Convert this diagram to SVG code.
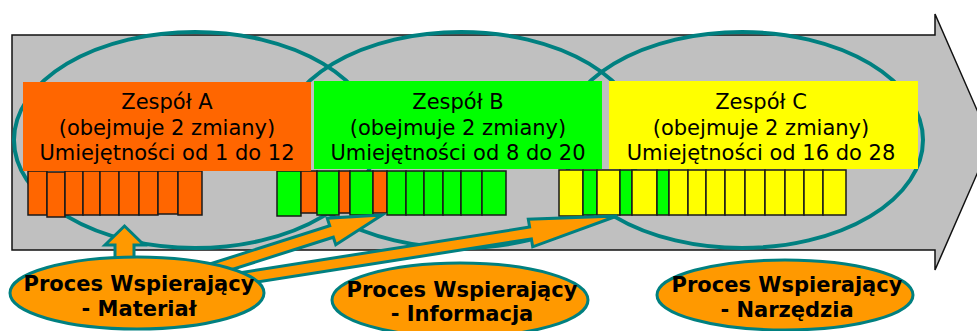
<svg xmlns="http://www.w3.org/2000/svg" width="977" height="331" viewBox="0 0 977 331">
<style>
.big{fill:none;stroke:#008080;stroke-width:4}
.hdr{stroke:none}
.bar{stroke:#1a1a1a;stroke-width:1.5}
.o{fill:#FF6600}.g{fill:#00FF00}.y{fill:#FFFF00}
.ht{font-family:"DejaVu Sans",Verdana,sans-serif;font-size:21px;fill:#000;text-anchor:middle}
.st{font-family:"DejaVu Sans",Verdana,sans-serif;font-size:21px;font-weight:bold;fill:#000;text-anchor:middle}
.sup{fill:#FF9900;stroke:#008080;stroke-width:3}
.arr{fill:#FF9900;stroke:#008080;stroke-width:3;stroke-linejoin:miter}
</style>
<rect width="977" height="331" fill="#fff"/>
<g id="flow">
<polygon points="12,35 935,35 935,14 991,142 935,270 935,250 12,250" fill="#C0C0C0" stroke="#111" stroke-width="1.5"/>
</g>
<g id="zones">
<ellipse class="big" cx="195" cy="140" rx="181" ry="108"/>
<ellipse class="big" cx="461" cy="140" rx="181" ry="108"/>
<ellipse class="big" cx="742" cy="140" rx="181" ry="108"/>
</g>
<g id="bars">
<rect class="bar o" x="28" y="171" width="19" height="44"/>
<rect class="bar o" x="47" y="172" width="18" height="45"/>
<rect class="bar o" x="65" y="171" width="18" height="44"/>
<rect class="bar o" x="83" y="171" width="17" height="44"/>
<rect class="bar o" x="100" y="171" width="19" height="44"/>
<rect class="bar o" x="119" y="171" width="20" height="44"/>
<rect class="bar o" x="139" y="171" width="19" height="44"/>
<rect class="bar o" x="158" y="171" width="20" height="43"/>
<rect class="bar o" x="178" y="171" width="24" height="44"/>

<rect class="bar g" x="277" y="171" width="24" height="45"/>
<rect class="bar o" x="301" y="171" width="16" height="42"/>
<rect class="bar g" x="317" y="171" width="22" height="44"/>
<rect class="bar o" x="339" y="171" width="11" height="42"/>
<rect class="bar g" x="350" y="171" width="23" height="44"/>
<rect class="bar o" x="373" y="171" width="14" height="42"/>
<rect class="bar g" x="387" y="171" width="19" height="44"/>
<rect class="bar g" x="406" y="171" width="18" height="44"/>
<rect class="bar g" x="424" y="171" width="19" height="44"/>
<rect class="bar g" x="443" y="171" width="18" height="44"/>
<rect class="bar g" x="461" y="171" width="21" height="44"/>
<rect class="bar g" x="482" y="171" width="24" height="44"/>

<rect class="bar y" x="559" y="170" width="24" height="46"/>
<rect class="bar g" x="583" y="170" width="14" height="45"/>
<rect class="bar y" x="597" y="170" width="23" height="45"/>
<rect class="bar g" x="620" y="170" width="12" height="45"/>
<rect class="bar y" x="632" y="170" width="25" height="45"/>
<rect class="bar g" x="657" y="170" width="12" height="45"/>
<rect class="bar y" x="669" y="170" width="19" height="45"/>
<rect class="bar y" x="688" y="170" width="18" height="45"/>
<rect class="bar y" x="706" y="170" width="19" height="45"/>
<rect class="bar y" x="725" y="170" width="20" height="45"/>
<rect class="bar y" x="745" y="170" width="20" height="45"/>
<rect class="bar y" x="765" y="170" width="20" height="45"/>
<rect class="bar y" x="785" y="170" width="19" height="45"/>
<rect class="bar y" x="804" y="170" width="19" height="45"/>
<rect class="bar y" x="823" y="170" width="23" height="45"/>
</g>
<g id="teamA">
<rect class="hdr o" x="23" y="82" width="288" height="89"/>
<text class="ht" x="167" y="109">Zespół A</text>
<text class="ht" x="167" y="135">(obejmuje 2 zmiany)</text>
<text class="ht" x="167" y="160">Umiejętności od 1 do 12</text>
</g>
<g id="teamB">
<rect class="hdr g" x="314" y="81" width="288" height="88"/>
<text class="ht" x="458" y="109">Zespół B</text>
<text class="ht" x="458" y="135">(obejmuje 2 zmiany)</text>
<text class="ht" x="458" y="160">Umiejętności od 8 do 20</text>
</g>
<g id="teamC">
<rect class="hdr y" x="609" y="81" width="309" height="88"/>
<text class="ht" x="761" y="109">Zespół C</text>
<text class="ht" x="761" y="135">(obejmuje 2 zmiany)</text>
<text class="ht" x="761" y="160">Umiejętności od 16 do 28</text>
</g>
<g id="connectors">
<polygon class="arr" points="124.5,226 144,245 134,245 134,272 115,272 115,245 105,245"/>
<polygon class="arr" points="193.2,269.3 329.7,225.8 327.2,218.2 382,215 335.8,244.8 333.3,237.2 196.8,280.7"/>
<polygon class="arr" points="224.3,275.2 529.6,227.1 528.3,219.2 617,216 532.7,246.8 531.4,238.9 226.1,287"/>
</g>
<g id="material">
<ellipse class="sup" cx="137" cy="293" rx="127" ry="36"/>
<text class="st" x="139" y="291">Proces Wspierający</text>
<text class="st" x="139" y="316">- Materiał</text>
</g>
<g id="informacja">
<ellipse class="sup" cx="460" cy="300" rx="128" ry="37"/>
<text class="st" x="462" y="297">Proces Wspierający</text>
<text class="st" x="462" y="321">- Informacja</text>
</g>
<g id="narzedzia">
<ellipse class="sup" cx="785" cy="295" rx="128" ry="35"/>
<text class="st" x="787" y="292">Proces Wspierający</text>
<text class="st" x="787" y="317">- Narzędzia</text>
</g>
</svg>
